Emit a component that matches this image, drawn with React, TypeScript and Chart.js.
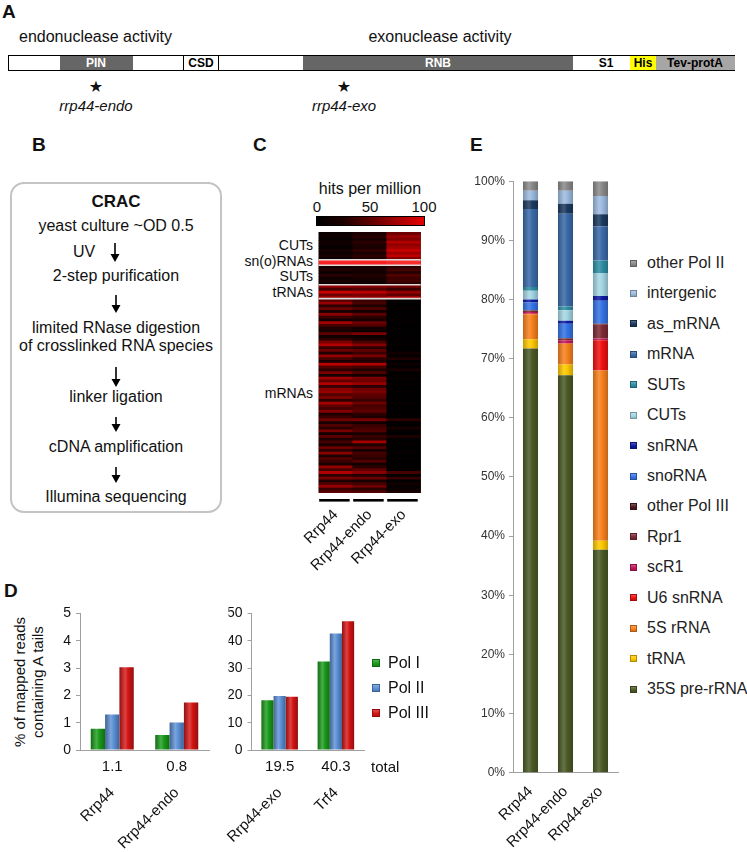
import React, { useEffect, useRef } from "react";
import { Chart, registerables } from "chart.js";

Chart.register(...registerables);

const FONT = '"Liberation Sans", Arial, Helvetica, sans-serif';
const NARROW = '"Liberation Sans Narrow", "Arial Narrow", "Liberation Sans", Arial, sans-serif';
const AXIS = "#a0a0a0";

// ---------------- Panel C : heatmap data (hits per million) ----------------
const heatSamples = ["Rrp44", "Rrp44-endo", "Rrp44-exo"];
const heatCUTs = [
  [8, 22, 55], [12, 28, 70], [6, 18, 62], [15, 30, 80], [10, 25, 68],
  [5, 20, 75], [18, 32, 88], [10, 22, 72], [20, 30, 85], [12, 26, 60],
];
const heatSnoRNAs = [
  [120, 118, 125], [115, 116, 122],
];
const heatSUTs = [
  [15, 18, 30], [25, 20, 40], [10, 15, 28], [30, 25, 45], [12, 20, 35], [20, 15, 38], [8, 12, 30],
];
const heatTRNAs = [
  [70, 65, 60], [40, 45, 35], [90, 85, 70], [55, 60, 50], [75, 70, 80],
];
const heatMRNAs = [
  [45, 35, 3], [70, 40, 2], [30, 25, 0], [55, 45, 4], [20, 15, 0], [65, 50, 2], [35, 30, 0],
  [15, 20, 3], [75, 55, 2], [40, 45, 0], [25, 15, 0], [20, 10, 2], [50, 60, 0], [15, 10, 0],
  [30, 20, 3], [60, 40, 0], [80, 65, 5], [35, 30, 0], [55, 50, 2], [25, 35, 15], [70, 60, 3],
  [40, 30, 25], [20, 25, 0], [85, 80, 10], [45, 40, 2], [30, 25, 20], [60, 45, 0], [20, 15, 3],
  [75, 60, 5], [50, 55, 0], [80, 70, 4], [35, 30, 2], [65, 55, 0], [70, 60, 3], [45, 50, 0],
  [60, 45, 2], [30, 35, 0], [75, 55, 5], [50, 40, 0], [40, 45, 2], [65, 50, 0], [25, 30, 3],
  [35, 25, 0], [55, 60, 30], [20, 15, 2], [45, 35, 0], [30, 40, 20], [60, 45, 3], [15, 20, 0],
  [50, 35, 25], [25, 30, 2], [40, 75, 0], [20, 25, 3], [55, 45, 0], [30, 20, 2], [65, 40, 5],
  [25, 35, 0], [45, 30, 3], [35, 45, 0], [20, 15, 2], [70, 30, 0], [40, 50, 3], [80, 65, 40],
  [30, 25, 2], [60, 55, 35], [25, 20, 0], [45, 40, 15], [70, 55, 5], [35, 30, 10], [50, 45, 20],
];
const heatScaleTicks = ["0", "50", "100"];

// ---------------- Panel D : % of mapped reads containing A tails ----------------
const polSeries = ["Pol I", "Pol II", "Pol III"];
const dLeftLabels = ["Rrp44", "Rrp44-endo"];
const dLeftTotals = ["1.1", "0.8"];
const dLeftPolI = [0.78, 0.55];
const dLeftPolII = [1.3, 1.01];
const dLeftPolIII = [3.03, 1.74];
const dRightLabels = ["Rrp44-exo", "Trf4"];
const dRightTotals = ["19.5", "40.3"];
const dRightPolI = [18.2, 32.4];
const dRightPolII = [19.8, 42.6];
const dRightPolIII = [19.5, 47.1];

// ---------------- Panel E : read distribution (%) ----------------
const eSamples = ["Rrp44", "Rrp44-endo", "Rrp44-exo"];
const eClasses = [
  "35S pre-rRNA", "tRNA", "5S rRNA", "U6 snRNA", "scR1", "Rpr1", "other Pol III",
  "snoRNA", "snRNA", "CUTs", "SUTs", "mRNA", "as_mRNA", "intergenic", "other Pol II",
];
const eRrp44 = [71.7, 1.6, 4.2, 0.1, 0.3, 0.2, 0.1, 1.3, 0.5, 1.5, 0.6, 13.2, 1.5, 1.6, 1.6];
const eRrp44endo = [67.2, 1.8, 3.5, 0.1, 0.5, 0.3, 0.1, 2.4, 0.5, 1.8, 0.6, 15.7, 1.7, 2.2, 1.6];
const eRrp44exo = [37.7, 1.5, 28.8, 5.1, 0.3, 2.4, 0.1, 3.9, 0.8, 3.9, 2.1, 5.8, 2.0, 3.1, 2.5];

// ---------------- styles ----------------
const polColors = ["#199a19", "#5b8fd5", "#d41414"];
const eColors = [
  "#4b5a27", "#ffc800", "#f8811d", "#f01010", "#c2185b", "#7d2a36", "#4e1a1e",
  "#3574e6", "#0b1ba3", "#a4d6e4", "#2f8ea3", "#3b6aa8", "#1c3a60", "#9dbbe0", "#8a8a8a",
];
const heatStops = [0, 25, 50, 75, 100];
const heatReds = [0, 30, 95, 165, 230];

function hexRgb(h: string) {
  const n = parseInt(h.slice(1), 16);
  return [(n >> 16) & 255, (n >> 8) & 255, n & 255];
}
function mix(h: string, t: number[], k: number) {
  const c = hexRgb(h);
  return `rgb(${c.map((v, i) => Math.round(v + (t[i] - v) * k)).join(",")})`;
}
const shade = (h: string, k: number) => mix(h, [0, 0, 0], k);
const tint = (h: string, k: number) => mix(h, [255, 255, 255], k);

function heatColor(v: number) {
  if (v > 100) {
    const e = Math.round(Math.min(60, (v - 100) * 2));
    return `rgb(255,${e},${e})`;
  }
  for (let i = 1; i < heatStops.length; i++) {
    if (v <= heatStops[i]) {
      const k = (v - heatStops[i - 1]) / (heatStops[i] - heatStops[i - 1]);
      const r = Math.round(heatReds[i - 1] + (heatReds[i] - heatReds[i - 1]) * k);
      return `rgb(${r},0,0)`;
    }
  }
  return `rgb(230,0,0)`;
}

function barGrad(base: string, nSeries: number, catPct: number, barPct: number, dark: number, light: number) {
  const edge = shade(base, dark);
  const mid = tint(base, light);
  return (c: any) => {
    if (c.type !== "data") return base;
    const chart = c.chart;
    const xs = chart.scales.x;
    if (!xs || !xs.width) return base;
    const n = chart.data.labels.length;
    const catW = xs.width / n;
    const size = catW * catPct;
    const chunk = size / nSeries;
    const idx = nSeries > 1 ? c.datasetIndex : 0;
    const start = xs.getPixelForValue(c.dataIndex) - size / 2 + chunk * idx + (chunk - chunk * barPct) / 2;
    const w = chunk * barPct;
    const g = chart.ctx.createLinearGradient(start, 0, start + w, 0);
    g.addColorStop(0, edge);
    g.addColorStop(0.4, mid);
    g.addColorStop(0.6, base);
    g.addColorStop(1, edge);
    return g;
  };
}

// ---------------- chart configs ----------------
function makeDChart(labels: string[], totals: string[], series: number[][], max: number, step: number, catPct: number, yWidth: number, rightPad: number) {
  return {
    type: "bar",
    data: {
      labels,
      datasets: series.map((d, k) => ({
        label: polSeries[k],
        data: d,
        backgroundColor: barGrad(polColors[k], 3, catPct, 1, 0.3, 0.2),
        borderWidth: 0,
        categoryPercentage: catPct,
        barPercentage: 1,
      })),
    },
    options: {
      animation: false,
      responsive: false,
      events: [],
      layout: { padding: { top: 13, right: rightPad, left: 0, bottom: 0 } },
      plugins: { legend: { display: false }, tooltip: { enabled: false } },
      scales: {
        x: {
          offset: true,
          weight: 0,
          grid: { display: false, drawTicks: false },
          border: { color: AXIS },
          ticks: {
            callback: (_v: any, i: number) => totals[i],
            padding: 8,
            maxRotation: 0,
            minRotation: 0,
            color: "#111",
            font: { family: FONT, size: 15 },
          },
          afterFit: (s: any) => { s.height = 28; },
        },
        xNames: {
          axis: "x",
          type: "category",
          labels,
          position: "bottom",
          offset: true,
          weight: 1,
          grid: { display: false, drawTicks: false },
          border: { display: false },
          ticks: { minRotation: 45, maxRotation: 45, autoSkip: false, padding: 6, color: "#111", font: { family: FONT, size: 15 } },
          afterFit: (s: any) => { s.height = 74; },
        },
        y: {
          min: 0,
          max,
          ticks: { stepSize: step, padding: 5, color: "#111", font: { family: FONT, size: 14 } },
          grid: { drawOnChartArea: false, tickLength: 4, color: AXIS },
          border: { color: AXIS },
          afterFit: (s: any) => { s.width = yWidth; },
        },
      },
    },
  };
}

const heatRows = [...heatCUTs, ...heatSnoRNAs, ...heatSUTs, ...heatTRNAs, ...heatMRNAs];
const heatBounds = [
  heatCUTs.length,
  heatCUTs.length + heatSnoRNAs.length,
  heatCUTs.length + heatSnoRNAs.length + heatSUTs.length,
  heatCUTs.length + heatSnoRNAs.length + heatSUTs.length + heatTRNAs.length,
];

const heatPlugin = {
  id: "heatDecor",
  beforeDatasetsDraw(chart: any) {
    const { ctx, chartArea: a } = chart;
    ctx.save();
    ctx.fillStyle = "#000";
    ctx.fillRect(a.left, a.top, a.right - a.left, a.bottom - a.top);
    ctx.restore();
  },
  afterDatasetsDraw(chart: any) {
    const { ctx, chartArea: a } = chart;
    const ys = chart.scales.y;
    const xs = chart.scales.x;
    ctx.save();
    ctx.strokeStyle = "#dcdcdc";
    ctx.lineWidth = 1.6;
    heatBounds.forEach((b) => {
      const py = ys.getPixelForValue(b);
      ctx.beginPath();
      ctx.moveTo(a.left, py);
      ctx.lineTo(a.right, py);
      ctx.stroke();
    });
    ctx.fillStyle = "#000";
    const catW = xs.width / heatSamples.length;
    heatSamples.forEach((_s, i) => {
      const cx = xs.getPixelForValue(i);
      ctx.fillRect(cx - catW / 2 + 0.5, a.bottom + 6, catW - 3.5, 2.6);
    });
    ctx.restore();
  },
};

function makeHeatChart() {
  return {
    type: "bar",
    data: {
      labels: heatSamples,
      datasets: heatRows.map((row, r) => ({
        label: "row " + r,
        data: row.map(() => 1),
        backgroundColor: row.map(heatColor),
        borderWidth: 0,
        barPercentage: 1,
        categoryPercentage: 1,
        stack: "heat",
      })),
    },
    options: {
      animation: false,
      responsive: false,
      events: [],
      layout: { padding: { left: 26, right: 6, top: 0, bottom: 0 } },
      plugins: { legend: { display: false }, tooltip: { enabled: false } },
      scales: {
        x: {
          stacked: true,
          offset: true,
          grid: { display: false, drawTicks: false },
          border: { display: false },
          ticks: { minRotation: 45, maxRotation: 45, autoSkip: false, padding: 13, color: "#111", font: { family: FONT, size: 15 } },
          afterFit: (s: any) => { s.height = 84; },
        },
        y: { stacked: true, display: false, min: 0, max: heatRows.length, reverse: true },
      },
    },
    plugins: [heatPlugin],
  };
}

function makeEChart() {
  const perSample = [eRrp44, eRrp44endo, eRrp44exo];
  const barPct = 0.43;
  return {
    type: "bar",
    data: {
      labels: eSamples,
      datasets: eClasses.map((name, k) => ({
        label: name,
        data: perSample.map((s) => s[k]),
        backgroundColor: barGrad(eColors[k], 1, 1, barPct, 0.22, 0.15),
        borderWidth: 0,
        barPercentage: barPct,
        categoryPercentage: 1,
      })),
    },
    options: {
      animation: false,
      responsive: false,
      events: [],
      layout: { padding: { top: 10.7, right: 12, left: 0, bottom: 0 } },
      plugins: { legend: { display: false }, tooltip: { enabled: false } },
      scales: {
        x: {
          stacked: true,
          offset: true,
          grid: { display: false, drawTicks: false },
          border: { color: AXIS },
          ticks: { minRotation: 45, maxRotation: 45, autoSkip: false, padding: 10, color: "#111", font: { family: FONT, size: 15 } },
          afterFit: (s: any) => { s.height = 79.3; },
        },
        y: {
          stacked: true,
          min: 0,
          max: 100,
          ticks: { stepSize: 10, padding: 4, callback: (v: any) => v + "%", color: "#333", font: { family: FONT, size: 12 } },
          grid: { drawOnChartArea: false, tickLength: 4, color: AXIS },
          border: { color: AXIS },
          afterFit: (s: any) => { s.width = 53; },
        },
      },
    },
  };
}

// ---------------- components ----------------
function ChartCanvas({ left, top, width, height, make }: any) {
  const ref = useRef<HTMLCanvasElement>(null);
  useEffect(() => {
    const ch = new Chart(ref.current as HTMLCanvasElement, make());
    return () => ch.destroy();
  }, []);
  return (
    <canvas
      ref={ref}
      width={width}
      height={height}
      style={{ position: "absolute", left, top, width, height }}
    />
  );
}

function T({ x, y, s = 14, b = false, i = false, a = "left", c = "#111", ff = FONT, children }: any) {
  const tx = a === "center" ? "-50%" : a === "right" ? "-100%" : "0";
  return (
    <div
      style={{
        position: "absolute",
        left: x,
        top: y,
        transform: `translate(${tx},-50%)`,
        fontSize: s,
        fontWeight: b ? "bold" : "normal",
        fontStyle: i ? "italic" : "normal",
        color: c,
        whiteSpace: "nowrap",
        lineHeight: 1.15,
        fontFamily: ff,
      }}
    >
      {children}
    </div>
  );
}

const domainSegments = [
  { x0: 60, x1: 133, label: "PIN", bg: "#666666", fg: "#fff", edge: false, lx: 96 },
  { x0: 183, x1: 219, label: "CSD", bg: "#ffffff", fg: "#000", edge: true, lx: 201 },
  { x0: 303, x1: 573, label: "RNB", bg: "#666666", fg: "#fff", edge: false, lx: 438 },
  { x0: 573, x1: 630, label: "S1", bg: "#ffffff", fg: "#000", edge: false, lx: 606 },
  { x0: 630, x1: 656, label: "His", bg: "#ffff00", fg: "#000", edge: false, lx: 643 },
  { x0: 656, x1: 735, label: "Tev-protA", bg: "#a6a6a6", fg: "#000", edge: false, lx: 695 },
];

const crracArrows = [
  [115, 243, 262],
  [116, 295, 313],
  [116, 367, 387],
  [116, 417, 432],
  [116, 467, 483],
];

function Arrows() {
  return (
    <svg width={747} height={852} style={{ position: "absolute", left: 0, top: 0 }}>
      {crracArrows.map(([x, y0, y1], k) => (
        <g key={k}>
          <line x1={x} y1={y0} x2={x} y2={y1 - 6} stroke="#000" strokeWidth={1.6} />
          <polygon points={`${x - 4.5},${y1 - 8} ${x + 4.5},${y1 - 8} ${x},${y1}`} fill="#000" />
        </g>
      ))}
    </svg>
  );
}

function LegendSwatch({ x, y, color, size = 8 }: any) {
  return (
    <div
      style={{
        position: "absolute",
        left: x,
        top: y - size / 2,
        width: size,
        height: size,
        boxSizing: "border-box",
        border: `1px solid ${shade(color, 0.3)}`,
        background: `linear-gradient(to bottom, ${tint(color, 0.25)}, ${color} 60%, ${shade(color, 0.15)})`,
      }}
    />
  );
}

export default function App() {
  const eLegend = [...eClasses].map((n, k) => ({ n, c: eColors[k] })).reverse();
  return (
    <div
      style={{
        position: "absolute",
        left: 0,
        top: 0,
        width: 747,
        height: 852,
        background: "#fff",
        overflow: "hidden",
        fontFamily: FONT,
      }}
    >
      {/* Panel A */}
      <T x={2} y={12} s={19} b>A</T>
      <T x={19} y={37} s={16}>endonuclease activity</T>
      <T x={440} y={37} s={16} a="center">exonuclease activity</T>
      <div
        style={{
          position: "absolute",
          left: 8,
          top: 55,
          width: 727,
          height: 16,
          border: "1px solid #000",
          boxSizing: "border-box",
          background: "#fff",
        }}
      />
      {domainSegments.map((d, k) => (
        <div
          key={k}
          style={{
            position: "absolute",
            left: d.x0,
            top: 56,
            width: d.x1 - d.x0,
            height: 14,
            background: d.bg,
            boxSizing: "border-box",
            borderLeft: d.edge ? "1px solid #000" : "none",
            borderRight: d.edge ? "1px solid #000" : "none",
          }}
        />
      ))}
      {domainSegments.map((d, k) => (
        <T key={"l" + k} x={d.lx} y={63.5} s={12} b a="center" c={d.fg} ff={NARROW}>{d.label}</T>
      ))}
      <T x={96} y={87} s={16} a="center" ff='"DejaVu Sans", sans-serif'>★</T>
      <T x={344} y={87} s={16} a="center" ff='"DejaVu Sans", sans-serif'>★</T>
      <T x={96} y={106} s={15} i a="center">rrp44-endo</T>
      <T x={344} y={106} s={15} i a="center">rrp44-exo</T>

      {/* Panel B */}
      <T x={32} y={145} s={19} b>B</T>
      <div
        style={{
          position: "absolute",
          left: 10,
          top: 182,
          width: 212,
          height: 331,
          border: "2.5px solid #c4c4c4",
          borderRadius: 14,
          boxSizing: "border-box",
        }}
      />
      <T x={116} y={202} s={17} b a="center">CRAC</T>
      <T x={116} y={226} s={16} a="center">yeast culture ~OD 0.5</T>
      <T x={84} y={252} s={16} a="center">UV</T>
      <T x={116} y={276} s={16} a="center">2-step purification</T>
      <T x={116} y={328} s={16} a="center">limited RNase digestion</T>
      <T x={116} y={346} s={16} a="center">of crosslinked RNA species</T>
      <T x={116} y={397} s={16} a="center">linker ligation</T>
      <T x={116} y={447} s={16} a="center">cDNA amplification</T>
      <T x={116} y={497} s={16} a="center">Illumina sequencing</T>
      <Arrows />

      {/* Panel C */}
      <T x={253} y={145} s={19} b>C</T>
      <T x={370} y={189} s={16} a="center">hits per million</T>
      <T x={317} y={207} s={15} a="center">{heatScaleTicks[0]}</T>
      <T x={370} y={207} s={15} a="center">{heatScaleTicks[1]}</T>
      <T x={424} y={207} s={15} a="center">{heatScaleTicks[2]}</T>
      <div
        style={{
          position: "absolute",
          left: 316,
          top: 216,
          width: 109,
          height: 10,
          border: "1px solid #000",
          boxSizing: "border-box",
          background: `linear-gradient(to right, ${heatStops.map((s) => heatColor(s) + " " + s + "%").join(", ")})`,
        }}
      />
      <T x={313} y={245} s={14} a="right">CUTs</T>
      <T x={313} y={261} s={14} a="right">sn(o)RNAs</T>
      <T x={313} y={276} s={14} a="right">SUTs</T>
      <T x={313} y={292} s={14} a="right">tRNAs</T>
      <T x={313} y={393} s={14} a="right">mRNAs</T>
      <ChartCanvas left={290} top={232} width={140} height={345} make={makeHeatChart} />

      {/* Panel D */}
      <T x={4} y={591} s={19} b>D</T>
      <div
        style={{
          position: "absolute",
          left: 29,
          top: 682,
          transform: "translate(-50%,-50%) rotate(-90deg)",
          fontSize: 15,
          lineHeight: "18px",
          textAlign: "center",
          whiteSpace: "nowrap",
          color: "#111",
        }}
      >
        % of mapped reads
        <br />
        containing A tails
      </div>
      <ChartCanvas
        left={0}
        top={600}
        width={215}
        height={252}
        make={() => makeDChart(dLeftLabels, dLeftTotals, [dLeftPolI, dLeftPolII, dLeftPolIII], 5, 1, 0.667, 80, 6)}
      />
      <ChartCanvas
        left={215}
        top={600}
        width={180}
        height={252}
        make={() => makeDChart(dRightLabels, dRightTotals, [dRightPolI, dRightPolII, dRightPolIII], 50, 10, 0.65, 23, 31)}
      />
      <T x={371} y={767} s={15}>total</T>
      {polSeries.map((p, k) => (
        <React.Fragment key={p}>
          <LegendSwatch x={372} y={663 + k * 25} color={polColors[k]} size={8} />
          <T x={388} y={663 + k * 25} s={16}>{p}</T>
        </React.Fragment>
      ))}

      {/* Panel E */}
      <T x={470} y={145} s={19} b>E</T>
      <ChartCanvas left={460} top={170} width={170} height={682} make={makeEChart} />
      {eLegend.map((e, k) => (
        <React.Fragment key={e.n}>
          <LegendSwatch x={630} y={263 + k * 30.43} color={e.c} size={7} />
          <T x={647} y={263 + k * 30.43} s={16} c="#222">{e.n}</T>
        </React.Fragment>
      ))}
    </div>
  );
}
